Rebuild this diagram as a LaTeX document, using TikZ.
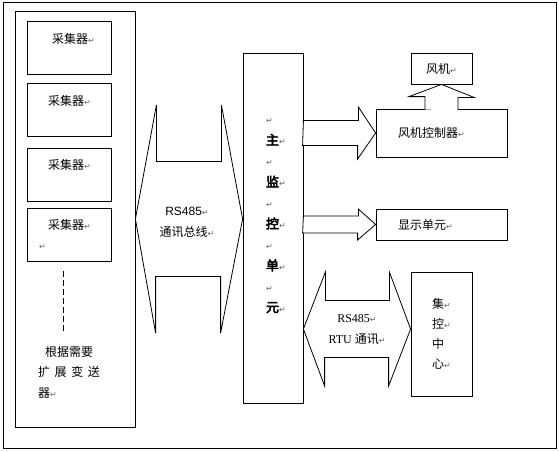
\documentclass[tikz,border=0pt]{standalone}
\usepackage{fontspec}
\setmainfont{Liberation Serif}
\setsansfont{Liberation Sans}
\newfontfamily\cjk{Noto Sans CJK SC}
\newfontfamily\cjkbf[FakeBold=4]{Noto Sans CJK SC}
\newfontfamily\symfont{DejaVu Sans}
\usepackage{tikz}
\newcommand{\pmark}{{\symfont\fontsize{8}{8}\selectfont\textcolor{black!60}{↵}}}

\begin{document}
\begin{tikzpicture}[x=1pt, y=-1pt, line width=0.8pt,
    every node/.style={font=\cjk\fontsize{12}{20}\selectfont, inner sep=0pt},
    collector/.style={draw, minimum width=84pt, minimum height=53pt, text width=60pt, align=left},
    ctlbox/.style={draw, minimum width=131pt, text width=87pt, align=left},
    blk/.style={draw, fill=white, line join=miter}]
    \useasboundingbox (0,0) rectangle (559,451);
    \draw (3,2) rectangle (556,448);

    % collectors
    \node[draw, minimum width=120pt, minimum height=416pt] (cbox) at (75,219) {};
    \node[collector] (c1) at (69,48) {\hspace*{13pt}采集器\pmark\\\mbox{}};
    \node[collector] (c2) at (69,110) {\hspace*{9pt}采集器\pmark\\\mbox{}};
    \node[collector] (c3) at (69,174.5) {\hspace*{9pt}采集器\pmark\\\mbox{}};
    \node[collector] (c4) at (69,234.5) {\hspace*{9pt}采集器\pmark\\\pmark};
    \draw[dash pattern=on 6pt off 3pt] ([xshift=-6pt,yshift=-10pt]c4.south) -- ++(0,62);
    \node[text width=62pt, align=left, font=\cjk\fontsize{12}{20.5}\selectfont] (expand) at (69,372) {\hspace*{7pt}根据需要\\扩\hfill 展\hfill 变\hfill 送\\器\pmark};

    % main unit
    \node[draw, minimum width=60pt, minimum height=350pt] (main) at (273,228) {};
    \node[text width=20pt, align=left, font=\cjkbf\fontsize{13}{20.9}\selectfont] (mainlbl) at (276,216) {\pmark\\主\pmark\\\pmark\\监\pmark\\\pmark\\控\pmark\\\pmark\\单\pmark\\\pmark\\元\pmark};

    % bus
    \draw[blk] (cbox.east) -- ++(21,-114) -- ++(0,56.5) -- ++(65,0) -- ++(0,-56.5) -- (main.west |- cbox.east) -- ++(-22,114) -- ++(0,-56.5) -- ++(-65,0) -- ++(0,56.5) -- cycle;
    \node[align=center, font=\fontsize{12}{21}\selectfont] (bustxt) at (187,222) {\sffamily RS485\pmark\\\cjk 通讯总线\pmark};

    % outputs
    \node[draw, minimum width=61pt, minimum height=31pt] (fan) at (441.5,68.5) {风机\pmark};
    \node[ctlbox, minimum height=48pt] (ctrl) at (441.5,133) {风机控制器\pmark};
    \node[ctlbox, minimum height=31pt] (disp) at (441.5,224.5) {显示单元\pmark};
    \draw[blk] (main.east |- ctrl.west) ++(0,-12.5) -- ++(55,0) -- ++(0,-13.5) -- (ctrl.west) -- ++(-18,26) -- ++(0,-13.5) -- ++(-55,0) -- cycle;
    \draw[blk] (main.east |- disp.west) ++(0,-8.5) -- ++(55,0) -- ++(0,-7) -- (disp.west) -- ++(-18,15.5) -- ++(0,-7) -- ++(-55,0) -- cycle;
    \draw[blk] ([xshift=-16.5pt,yshift=-1pt]ctrl.north) -- ++(0,-13) -- ++(-16,0) -- (fan.south) -- ++(32.5,13) -- ++(-16,0) -- ++(0,13);

    % control centre
    \node[draw, minimum width=61pt, minimum height=124pt, align=left] (hub) at (441.5,334) {集\pmark\\控\pmark\\中\\心\pmark};
    \draw[blk] (main.east |- hub.west) ++(0,-5) -- ++(22,-57) -- ++(0,28.5) -- ++(64,0) -- ++(0,-28.5) -- ([yshift=5pt]hub.west) -- ++(-22,57) -- ++(0,-28.5) -- ++(-64,0) -- ++(0,28.5) -- cycle;
    \node[align=center, font=\fontsize{12}{21}\selectfont] (rtutxt) at (357,329.5) {RS485\pmark\\RTU {\cjk 通讯}\pmark};
\end{tikzpicture}
\end{document}
